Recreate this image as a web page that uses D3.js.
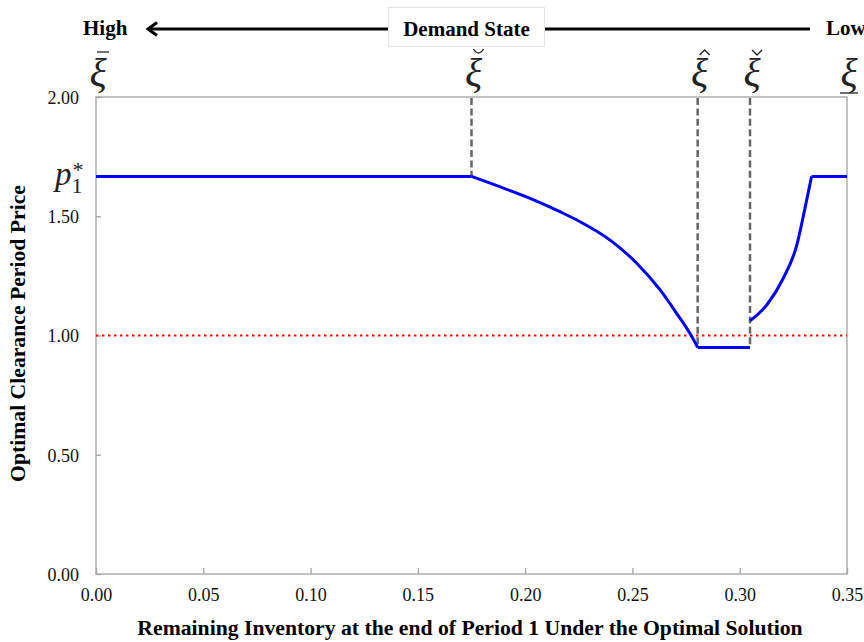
<!DOCTYPE html>
<html>
<head>
<meta charset="utf-8">
<script src="https://cdn.jsdelivr.net/npm/d3@7"></script>
<style>
  html, body { margin: 0; padding: 0; background: #fff; }
  svg { display: block; font-family: "Liberation Serif", "Times New Roman", serif; }
  svg text { font-family: "Liberation Serif", "Times New Roman", serif; }
</style>
</head>
<body>
<svg id="chart" width="864" height="642"></svg>
<script>
// Remaining inventory (x) and optimal clearance-period price (y)
const inventoryTicks = [0, 0.05, 0.10, 0.15, 0.20, 0.25, 0.30, 0.35];
const priceTicks = [0, 0.5, 1.0, 1.5, 2.0];

// Regular price level p1* reached by the policy
const plateauPrice = 1.667;
const plateauInventory = [0, 0.175];

// Declining branch after the first threshold
const declineInventory = [0.175, 0.1914, 0.2023, 0.2162, 0.2256, 0.2396, 0.2520, 0.2629, 0.2706, 0.2768, 0.2804];
const declinePrice     = [1.667, 1.613, 1.575, 1.519, 1.477, 1.400, 1.303, 1.191, 1.093, 1.009, 0.950];

// Price floor between the two middle thresholds
const floorPrice = 0.95;
const floorInventory = [0.2804, 0.3048];

// Recovering branch back up to p1*
const recoveryInventory = [0.3048, 0.3126, 0.3203, 0.3266, 0.3304, 0.3335];
const recoveryPrice     = [1.062, 1.128, 1.240, 1.379, 1.533, 1.667];

// Top plateau on the low-demand side
const capInventory = [0.3335, 0.35];

// Reference price (dotted red line)
const referencePrice = 1.0;

// Demand-state thresholds: position, accent on the xi symbol, and where the guide line stops
const thresholdInventory = [0, 0.175, 0.2804, 0.3048, 0.35];
const thresholdAccent    = ["bar", "breve", "hat", "check", "under"];
const thresholdGuideTo   = [null, 1.667, 0.95, 0.95, null];

const svg = d3.select("#chart");
const margin = { left: 96, right: 17, top: 97, bottom: 68 };
const W = 864, H = 642;
const serif = "'Liberation Serif', 'Times New Roman', serif";

const x = d3.scaleLinear().domain([0, 0.35]).range([margin.left, W - margin.right]);
const y = d3.scaleLinear().domain([0, 2]).range([H - margin.bottom, margin.top]);

// Plot frame
svg.append("rect")
  .attr("x", x(0)).attr("y", y(2))
  .attr("width", x(0.35) - x(0)).attr("height", y(0) - y(2))
  .attr("fill", "none").attr("stroke", "#a3a3a3").attr("stroke-width", 1.3);

// Axes (ticks pointing into the plot)
const xAxis = d3.axisBottom(x).tickValues(inventoryTicks).tickFormat(d3.format(".2f"))
  .tickSizeInner(-6).tickSizeOuter(0).tickPadding(14);
const yAxis = d3.axisLeft(y).tickValues(priceTicks).tickFormat(d3.format(".2f"))
  .tickSizeInner(-5).tickSizeOuter(0).tickPadding(17);

const gx = svg.append("g").attr("transform", `translate(0,${y(0)})`).call(xAxis);
const gy = svg.append("g").attr("transform", `translate(${x(0)},0)`).call(yAxis);
[gx, gy].forEach(g => {
  g.attr("font-family", serif).attr("font-size", 18);
  g.select(".domain").remove();
  g.selectAll(".tick line").attr("stroke", "#a3a3a3").attr("stroke-width", 1.3);
  g.selectAll(".tick text").attr("fill", "#111")
    .attr("font-family", serif).style("font-family", serif).style("font-size", "18px");
});
gy.selectAll(".tick text").attr("dy", "0.36em");

// Reference price line
svg.append("line")
  .attr("x1", x(0)).attr("x2", x(0.35))
  .attr("y1", y(referencePrice)).attr("y2", y(referencePrice))
  .attr("stroke", "#ff0000").attr("stroke-width", 2.2)
  .attr("stroke-dasharray", "2.4,3.6");

// Threshold guide lines
thresholdInventory.forEach((t, i) => {
  if (thresholdGuideTo[i] === null) return;
  svg.append("line")
    .attr("x1", x(t)).attr("x2", x(t))
    .attr("y1", y(2) + 1).attr("y2", y(thresholdGuideTo[i]))
    .attr("stroke", "#666").attr("stroke-width", 2.5)
    .attr("stroke-dasharray", "7,3.4");
});

// Price policy line
const straight = d3.line().x(d => x(d[0])).y(d => y(d[1]));
const smooth = d3.line().x(d => x(d[0])).y(d => y(d[1])).curve(d3.curveMonotoneX);
const segments = [
  { pts: plateauInventory.map(v => [v, plateauPrice]), gen: straight },
  { pts: d3.zip(declineInventory, declinePrice), gen: smooth },
  { pts: floorInventory.map(v => [v, floorPrice]), gen: straight },
  { pts: d3.zip(recoveryInventory, recoveryPrice), gen: smooth },
  { pts: capInventory.map(v => [v, plateauPrice]), gen: straight }
];
segments.forEach(s => {
  svg.append("path").attr("d", s.gen(s.pts))
    .attr("fill", "none").attr("stroke", "#0000ff").attr("stroke-width", 3)
    .attr("stroke-linejoin", "round");
});

// p1* label beside the plateau level
const pLab = svg.append("text").attr("x", 55).attr("y", y(plateauPrice) + 9)
  .attr("fill", "#222").style("font-size", "33px");
pLab.append("tspan").style("font-style", "italic").text("p");
pLab.append("tspan").attr("dx", 0).attr("dy", 8).style("font-size", "22px").text("1");
pLab.append("tspan").attr("dx", -10).attr("dy", -16).style("font-size", "22px").text("*");

// Xi threshold symbols with their accents
const xiY = 86;
thresholdInventory.forEach((t, i) => {
  const cx = x(t) + 2;
  const g = svg.append("g");
  g.append("text").attr("x", cx).attr("y", xiY).attr("text-anchor", "middle")
    .style("font-size", "40px").style("font-style", "italic").attr("fill", "#222")
    .text("ξ");
  const ax = cx + 5;
  const acc = thresholdAccent[i];
  let p = null;
  if (acc === "bar") p = `M${ax - 6},52 L${ax + 6},52`;
  if (acc === "breve") p = `M${ax - 5},49 Q${ax},57 ${ax + 5},49`;
  if (acc === "hat") p = `M${ax - 5},55 L${ax},50 L${ax + 5},55`;
  if (acc === "check") p = `M${ax - 5},50 L${ax},55 L${ax + 5},50`;
  if (acc === "under") p = `M${cx - 9},93 L${cx + 9},93`;
  g.append("path").attr("d", p)
    .attr("stroke", "#222").attr("stroke-width", 1.3).attr("fill", "none");
});

// Demand-state arrow across the top
const arrowY = 29;
svg.append("line").attr("x1", 148).attr("x2", 810).attr("y1", arrowY).attr("y2", arrowY)
  .attr("stroke", "#000").attr("stroke-width", 3);
svg.append("path").attr("d", `M157,22.5 L148,29 L157,35.5`)
  .attr("fill", "none").attr("stroke", "#000").attr("stroke-width", 3)
  .attr("stroke-linejoin", "miter");
svg.append("rect").attr("x", 388.5).attr("y", 7.5).attr("width", 156).attr("height", 39)
  .attr("fill", "#fff").attr("stroke", "#e4e4e4").attr("stroke-width", 1);
svg.append("text").attr("x", 466.5).attr("y", 36).attr("text-anchor", "middle")
  .style("font-size", "21px").style("font-weight", "bold").text("Demand State");
svg.append("text").attr("x", 83).attr("y", 35)
  .style("font-size", "21px").style("font-weight", "bold").text("High");
svg.append("text").attr("x", 826).attr("y", 35)
  .style("font-size", "21px").style("font-weight", "bold").text("Low");

// Axis titles
svg.append("text").attr("x", 470).attr("y", 635).attr("text-anchor", "middle")
  .style("font-size", "21.7px").style("font-weight", "bold")
  .text("Remaining Inventory at the end of Period 1 Under the Optimal Solution");
svg.append("text").attr("transform", `translate(25,${333.5}) rotate(-90)`)
  .attr("text-anchor", "middle")
  .style("font-size", "21.7px").style("font-weight", "bold")
  .text("Optimal Clearance Period Price");
</script>
</body>
</html>
